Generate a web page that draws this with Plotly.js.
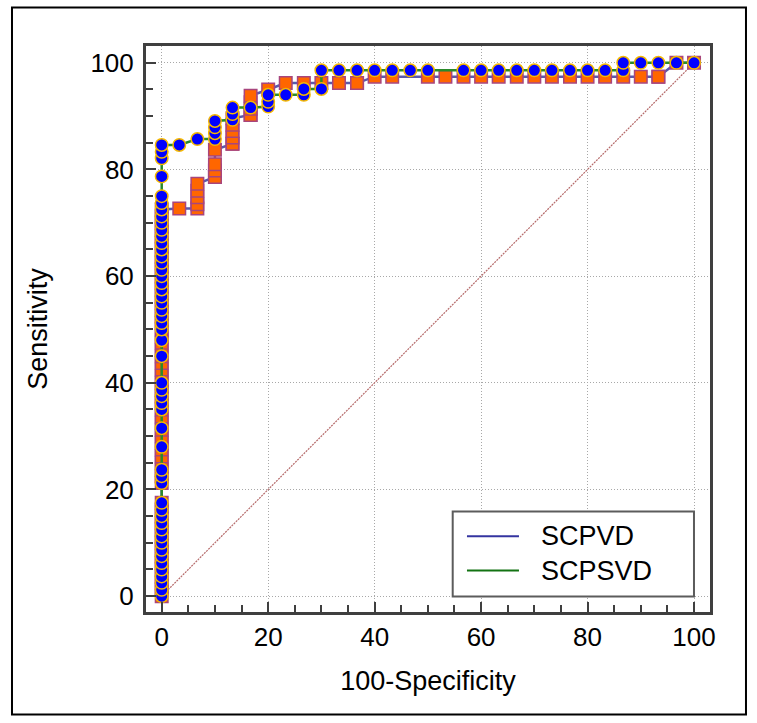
<!DOCTYPE html>
<html>
<head>
<meta charset="utf-8">
<script src="https://cdn.plot.ly/plotly-3.0.1.min.js"></script>
<style>html,body{margin:0;padding:0;background:#fff;}#chart{width:757px;height:723px;}</style>
</head>
<body>
<div id="chart"></div>
<script>
// Series names
const seriesNames = ['SCPVD', 'SCPSVD'];

// SCPVD ROC points (100-Specificity, Sensitivity)
const scpvdX = [
  0,0,0,0,0,0,0,0,0,0,0,0,0,0,0,
  0,0,0,0,0,0,0,0,0,0,0,0,0,0,0,
  0,0,0,0,0,0,0,0,0,0,0,0,0,0,0,
  0,0,0,0,0,0,0,0,0,0,0,0,
  3.3, 6.7,6.7,6.7,6.7,6.7, 10,10,10,10,10,
  13.3,13.3,13.3,13.3,13.3,13.3, 16.7,16.7,16.7,16.7,16.7,
  20,23.3,26.7,30,33.3,36.7,36.7,40,43.3,50,53.3,56.7,60,63.3,66.7,
  70,73.3,76.7,80,83.3,86.7,90,93.3,93.3,96.7,100
];
const scpvdY = [
  0,1.2,2.5,3.7,5,6.2,7.5,8.7,10,11.2,12.5,13.7,15,16.2,17.5,
  21.2,22.5,23.7,25,26.2,27.5,28.7,30,31.2,32.5,33.7,35,36.2,37.5,
  38.7,40,41.2,42.5,43.7,45,46.2,47.5,48.7,50,51.2,52.5,53.7,55,56.2,57.5,
  58.7,60,61.2,62.5,63.7,65,66.2,67.5,68.7,70,71.2,72.5,72.7,
  72.7, 73.5,74.8,76.0,77.3,78.6, 78.6,79.8,81.0,83.7,84.8,
  84.8,86.0,87.2,88.4,89.6,90.2, 90.2,91.4,92.6,93.8,95.0,
  96.2,96.2,96.2,96.2,96.2,96.2,97.4,97.4,97.4,97.4,97.4,97.4,97.4,97.4,97.4,
  97.4,97.4,97.4,97.4,97.4,97.4,97.4,97.4,100,100,100
];

// SCPSVD ROC points (100-Specificity, Sensitivity)
const scpsvdX = [
  0,0,0,0,0,0,0,0,0,0,0,0,0,0,0,
  0,0,0,0,0,0,0,0,0,0,0,
  0,0,0,0,0,0,0,0,0,0,0,0,0,0,0,0,0,0,0,0,0,
  0,0,0,0,0,
  3.3,6.7,10,10,10,10,13.3,13.3,13.3,16.7,20,20,20,23.3,26.7,26.7,30,30,
  33.3,36.7,40,43.3,46.7,50,56.7,60,63.3,66.7,70,73.3,76.7,80,83.3,86.7,
  86.7,90,93.3,96.7,100
];
const scpsvdY = [
  0,1.2,2.5,3.7,5,6.2,7.5,8.7,10,11.2,12.5,13.7,15,16.2,17.5,
  21.2,22.5,23.7,28,31.5,35,36.2,37.5,38.7,40,45,
  48,50,51.2,52.5,53.7,55,56.2,57.5,58.7,60,61.2,62.5,63.7,65,66.2,67.5,68.7,70,71.2,72.5,73.7,
  75,78.7,82.1,83.3,84.6,
  84.6,85.7,85.7,86.8,87.9,89.1,89.3,90.4,91.6,91.6,91.8,92.7,94.0,94.0,94.0,95.1,95.1,98.6,
  98.6,98.6,98.6,98.6,98.6,98.6,98.6,98.6,98.6,98.6,98.6,98.6,98.6,98.6,98.6,98.6,
  100,100,100,100,100
];
// reference line
const diagX = [0, 100];
const diagY = [0, 100];

const axisTicks = [0, 20, 40, 60, 80, 100];

const FONT = 'Arial, "Liberation Sans", sans-serif';
const frameColor = '#3f3f3f';

const traces = [
  {x: diagX, y: diagY, mode: 'lines', showlegend: false, hoverinfo: 'skip',
   line: {color: '#b56a6a', width: 1.2, dash: '2px,1px'}},
  {x: scpvdX, y: scpvdY, name: seriesNames[0], mode: 'lines+markers', showlegend: false,
   line: {color: '#5a5aaa', width: 2.5},
   marker: {symbol: 'square', size: 12.5, color: '#ff6600', line: {color: '#a8457d', width: 1.5}}},
  {x: scpsvdX, y: scpsvdY, name: seriesNames[1], mode: 'lines+markers', showlegend: false,
   line: {color: '#2a8a2a', width: 2.5},
   marker: {symbol: 'circle', size: 12.5, color: '#0000ff', line: {color: '#f5b800', width: 1.5}}}
];

function axis(titleText, rng, lblStandoff, titleStandoff) {
  return {
    range: rng, tickmode: 'array', tickvals: axisTicks, ticktext: axisTicks.map(String),
    ticks: 'inside', ticklen: 10, tickwidth: 2, tickcolor: frameColor,
    showline: true, linecolor: frameColor, linewidth: 3, mirror: true,
    showgrid: true, gridcolor: '#a8a8a8', griddash: '1px,2px', gridwidth: 1,
    zeroline: false, ticklabelstandoff: lblStandoff,
    minor: {tickmode: 'linear', tick0: 0, dtick: 5, ticks: 'inside', ticklen: 7, tickwidth: 2, tickcolor: frameColor, showgrid: false},
    tickfont: {family: FONT, size: 26, color: '#000'},
    title: {text: titleText, font: {family: FONT, size: 27, color: '#000'}, standoff: titleStandoff},
    fixedrange: true
  };
}

// legend drawn in paper coords
const legX0 = 0.5438, legX1 = 0.9716, legY0 = 0.0274, legY1 = 0.1776;
const legRows = [0.1339, 0.0733];
const legColors = ['#3434a0', '#137313'];

const shapes = [
  {type: 'rect', xref: 'paper', yref: 'paper', x0: -0.2376, x1: 1.0638, y0: -0.1811, y1: 1.068,
   line: {color: '#000', width: 2}, fillcolor: 'rgba(0,0,0,0)', layer: 'below'},
  {type: 'rect', xref: 'paper', yref: 'paper', x0: legX0, x1: legX1, y0: legY0, y1: legY1,
   line: {color: '#5c5c5c', width: 2}, fillcolor: '#ffffff', layer: 'above'}
];
const annotations = [];
seriesNames.forEach((n, i) => {
  shapes.push({type: 'line', xref: 'paper', yref: 'paper', x0: 0.5691, x1: 0.6613, y0: legRows[i], y1: legRows[i],
    line: {color: legColors[i], width: 2}, layer: 'above'});
  annotations.push({xref: 'paper', yref: 'paper', x: 0.6968, y: legRows[i], xanchor: 'left', yanchor: 'middle',
    text: n, showarrow: false, font: {family: FONT, size: 27, color: '#000'}});
});

const layout = {
  width: 757, height: 723,
  margin: {l: 146, r: 47, t: 46, b: 111},
  paper_bgcolor: '#fff', plot_bgcolor: '#fff',
  showlegend: false,
  xaxis: axis('100-Specificity', [-2.95, 103.0], 0, 20),
  yaxis: axis('Sensitivity', [-2.97, 103.15], 4, 35),
  shapes: shapes, annotations: annotations,
  font: {family: FONT}
};

Plotly.newPlot('chart', traces, layout, {staticPlot: true, displayModeBar: false});
</script>
</body>
</html>
